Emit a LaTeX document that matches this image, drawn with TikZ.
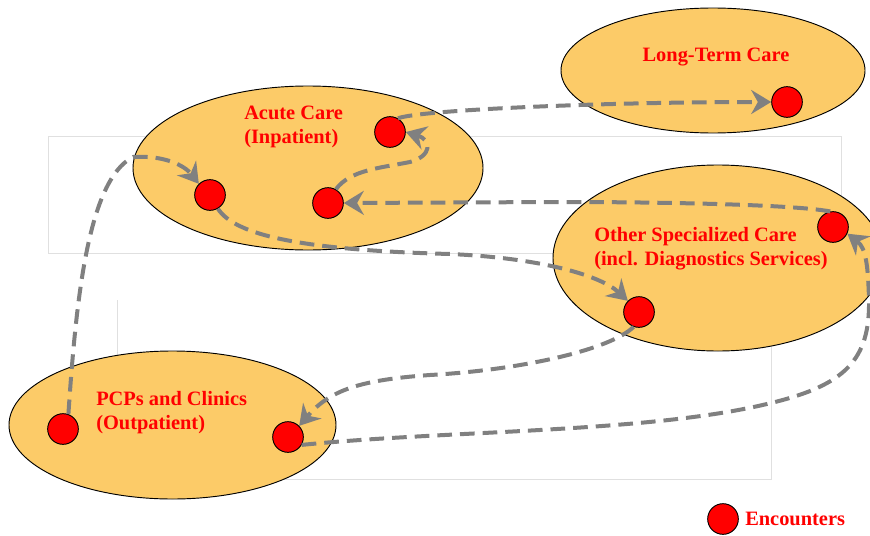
\documentclass[tikz,border=0pt]{standalone}
\usepackage{fontspec}
\setmainfont{Liberation Serif}
\usetikzlibrary{arrows.meta}

\definecolor{caresetting}{RGB}{252,203,104}
\definecolor{flowgray}{RGB}{128,128,128}

\begin{document}
\begin{tikzpicture}[%
        x = 0.75pt, y = -0.75pt,
        setting/.style = {draw=black, line width=0.7pt, fill=caresetting},
        encounter/.style = {circle, draw=black, line width=0.7pt, fill=red,
            inner sep=0pt, minimum size=23pt},
        caption/.style = {text=red, font=\fontsize{15.3}{18}\selectfont\bfseries,
            align=left, anchor=west, inner sep=0pt},
        flow/.style = {draw=flowgray, line width=3pt, dash pattern=on 11pt off 6pt,
            -{Stealth[length=15pt, width=18pt, inset=5pt]}}
    ]
      \useasboundingbox (0,0) rectangle (870,535);
      \draw[black!12, line width=0.6pt] (48,136) rectangle (841,253);
      \draw[black!12, line width=0.6pt] (117,300) -- (117,479) -- (771,479) -- (771,300);
      \draw[setting] (713,70.5) ellipse [x radius=152, y radius=62.5];
      \draw[setting] (308,168) ellipse [x radius=175, y radius=82];
      \draw[setting] (718,258) ellipse [x radius=165, y radius=93];
      \draw[setting] (172.5,425) ellipse [x radius=163.5, y radius=74];
      \node[caption, anchor=center] (ltctext) at (716,57) {Long-Term Care};
      \node[caption] (actext) at (244,127) {Acute Care\\(Inpatient)};
      \node[caption] (ostext) at (594,249) {Other Specialized Care\\(incl. Diagnostics Services)};
      \node[caption] (pctext) at (96,413) {PCPs and Clinics\\(Outpatient)};
      \node[encounter] (ltc1) at (787,102) {};
      \node[encounter] (ac1) at (390,132) {};
      \node[encounter] (ac2) at (210,195) {};
      \node[encounter] (ac3) at (328,203) {};
      \node[encounter] (os1) at (833,227) {};
      \node[encounter] (os2) at (639,312) {};
      \node[encounter] (pc1) at (63,429) {};
      \node[encounter] (pc2) at (288,437) {};
      \node[encounter] (leg) at (723,519) {};
      \node[caption] (legtext) at (745,519) {Encounters};
      \draw[flow] (pc1.70) .. controls (76,300) and (88,180) .. (133,157)
          .. controls (165,155) and (185,166) .. (ac2.135);
      \draw[flow] (ac2.-60) .. controls (235,235) and (300,250) .. (450,254)
          .. controls (540,258) and (600,275) .. (os2.135);
      \draw[flow] (os2.-110) .. controls (610,350) and (520,370) .. (430,375)
          .. controls (360,380) and (330,390) .. (pc2.45);
      \draw[flow] (pc2.-30) .. controls (450,430) and (650,433) .. (771,403)
          .. controls (845,385) and (870,360) .. (869,300)
          .. controls (868,265) and (866,248) .. (os1.-25);
      \draw[flow] (os1.100) .. controls (790,204) and (650,202) .. (560,202) -- (ac3.east);
      \draw[flow] (ac3.60) .. controls (350,170) and (380,168) .. (410,162)
          .. controls (432,156) and (432,140) .. (ac1.east);
      \draw[flow] (ac1.60) .. controls (420,110) and (600,102) .. (ltc1.west);
    \end{tikzpicture}
\end{document}
